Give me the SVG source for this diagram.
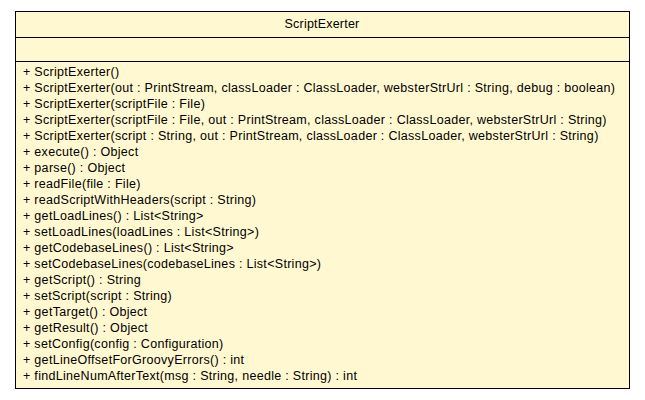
<svg xmlns="http://www.w3.org/2000/svg" width="645" height="400" viewBox="0 0 645 400">
<style>
.box{fill:#fff8d0;stroke:#000;stroke-width:1}
.sep{stroke:#000;stroke-width:1}
text{font-family:"Liberation Sans",Arial,sans-serif;font-size:12.5px;fill:#000}
.m{letter-spacing:0.3px}
.t{letter-spacing:0.2px}
</style>
<rect width="645" height="400" fill="#fff"/>
<g id="ScriptExerter">
<rect class="box" x="15.5" y="11.5" width="614" height="377"/>
<line class="sep" x1="15.5" y1="37.5" x2="629.5" y2="37.5"/>
<line class="sep" x1="15.5" y1="61.5" x2="629.5" y2="61.5"/>
<text class="t" x="322" y="28" text-anchor="middle">ScriptExerter</text>
<text class="m" x="23" y="75.5">+ ScriptExerter()</text>
<text class="m" x="23" y="91.5">+ ScriptExerter(out : PrintStream, classLoader : ClassLoader, websterStrUrl : String, debug : boolean)</text>
<text class="m" x="23" y="107.5">+ ScriptExerter(scriptFile : File)</text>
<text class="m" x="23" y="123.5">+ ScriptExerter(scriptFile : File, out : PrintStream, classLoader : ClassLoader, websterStrUrl : String)</text>
<text class="m" x="23" y="139.5">+ ScriptExerter(script : String, out : PrintStream, classLoader : ClassLoader, websterStrUrl : String)</text>
<text class="m" x="23" y="155.5">+ execute() : Object</text>
<text class="m" x="23" y="171.5">+ parse() : Object</text>
<text class="m" x="23" y="187.5">+ readFile(file : File)</text>
<text class="m" x="23" y="203.5">+ readScriptWithHeaders(script : String)</text>
<text class="m" x="23" y="219.5">+ getLoadLines() : List&lt;String&gt;</text>
<text class="m" x="23" y="235.5">+ setLoadLines(loadLines : List&lt;String&gt;)</text>
<text class="m" x="23" y="251.5">+ getCodebaseLines() : List&lt;String&gt;</text>
<text class="m" x="23" y="267.5">+ setCodebaseLines(codebaseLines : List&lt;String&gt;)</text>
<text class="m" x="23" y="283.5">+ getScript() : String</text>
<text class="m" x="23" y="299.5">+ setScript(script : String)</text>
<text class="m" x="23" y="315.5">+ getTarget() : Object</text>
<text class="m" x="23" y="331.5">+ getResult() : Object</text>
<text class="m" x="23" y="347.5">+ setConfig(config : Configuration)</text>
<text class="m" x="23" y="363.5">+ getLineOffsetForGroovyErrors() : int</text>
<text class="m" x="23" y="379.5">+ findLineNumAfterText(msg : String, needle : String) : int</text>
</g>
<g id="connectors"></g>
</svg>
